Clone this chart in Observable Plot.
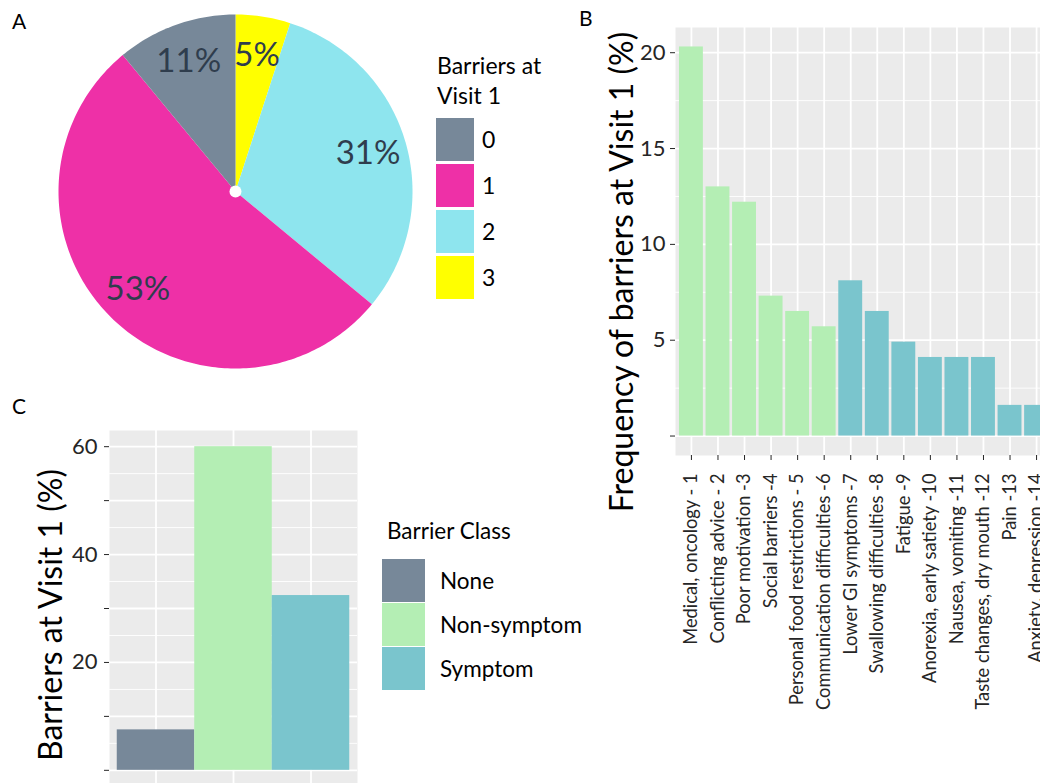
<!DOCTYPE html>
<html>
<head>
<meta charset="utf-8">
<script src="https://cdn.jsdelivr.net/npm/d3@7"></script>
<script src="https://cdn.jsdelivr.net/npm/@observablehq/plot@0.6"></script>
<style>
  body { margin: 0; background: #fff; font-family: Lato, "Open Sans", sans-serif; }
  #fig { position: relative; width: 1040px; height: 783px; overflow: hidden; background: #fff; color: #000; }
  #fig > svg, #fig > div { position: absolute; }
  .tag { line-height: normal; }
  .ytitle { white-space: nowrap; font-size: 32px; line-height: normal; transform: translate(-50%, -50%) rotate(-90deg); }
  .lgtext { white-space: nowrap; line-height: normal; }
</style>
</head>
<body>
<div id="fig"></div>
<script>
// ---- Panel A: number of barriers at visit 1 (share of patients, %)
const barrierCount = ["0", "1", "2", "3"];
const barrierShare = [11, 53, 31, 5];
const barrierColors = ["#778899", "#EE30A7", "#8EE5EE", "#FFFF00"];

// ---- Panel B: frequency of individual barriers at visit 1 (%)
const barrierNames = [
  "Medical, oncology - 1",
  "Conflicting advice - 2",
  "Poor motivation -3",
  "Social barriers -4",
  "Personal food restrictions - 5",
  "Communication difficulties -6",
  "Lower GI symptoms -7",
  "Swallowing difficulties -8",
  "Fatigue -9",
  "Anorexia, early satiety -10",
  "Nausea, vomiting -11",
  "Taste changes, dry mouth -12",
  "Pain -13",
  "Anxiety, depression -14"
];
const barrierFreq = [20.3, 13.0, 12.2, 7.3, 6.5, 5.7, 8.1, 6.5, 4.9, 4.1, 4.1, 4.1, 1.6, 1.6];
const barrierClassOf = [
  "Non-symptom", "Non-symptom", "Non-symptom", "Non-symptom", "Non-symptom", "Non-symptom",
  "Symptom", "Symptom", "Symptom", "Symptom", "Symptom", "Symptom", "Symptom", "Symptom"
];
const freqTickValues = [0, 5, 10, 15, 20];
const freqTickLabels = ["", "5", "10", "15", "20"];
const freqMinorTicks = [2.5, 7.5, 12.5, 17.5];

// ---- Panel C: barrier class at visit 1 (%)
const classNames = ["None", "Non-symptom", "Symptom"];
const classShare = [7.5, 60.0, 32.4];
const classColors = ["#778899", "#B4EEB4", "#7AC5CD"];
const classTickValues = [0, 10, 20, 30, 40, 50, 60];
const classTickLabels = ["", "", "20", "", "40", "", "60"];
const classMinorTicks = [5, 15, 25, 35, 45, 55];

const fig = document.getElementById("fig");
const FONT = "Lato, 'Open Sans', sans-serif";
const baseStyle = { fontFamily: FONT, background: "transparent", overflow: "visible", color: "#262626" };

function place(el, left, top) {
  el.style.position = "absolute";
  el.style.left = left + "px";
  el.style.top = top + "px";
  fig.appendChild(el);
  return el;
}

// ---------------- Panel A: pie ----------------
// Slices run clockwise from 12 o'clock, highest count first.
const pieOrder = barrierCount.slice().reverse();
const pieTotal = d3.sum(barrierShare);
let acc = 0;
const slices = pieOrder.map(key => {
  const share = barrierShare[barrierCount.indexOf(key)];
  const a0 = acc / pieTotal * 2 * Math.PI;
  acc += share;
  const a1 = acc / pieTotal * 2 * Math.PI;
  return { key, share, a0, a1, mid: (a0 + a1) / 2 };
});
const wedgePoints = slices.flatMap(s => {
  const n = Math.max(2, Math.ceil((s.a1 - s.a0) / (Math.PI / 180)));
  const pts = [{ key: s.key, x: 0, y: 0 }];
  for (let j = 0; j <= n; j++) {
    const a = s.a0 + (s.a1 - s.a0) * j / n;
    pts.push({ key: s.key, x: Math.sin(a), y: Math.cos(a) });
  }
  pts.push({ key: s.key, x: 0, y: 0 });
  return pts;
});
const labelRadius = 0.78;

const pie = Plot.plot({
  width: 354, height: 354, margin: 0,
  style: baseStyle,
  x: { domain: [-1, 1], axis: null },
  y: { domain: [-1, 1], axis: null },
  color: { domain: barrierCount, range: barrierColors },
  marks: [
    Plot.line(wedgePoints, { x: "x", y: "y", z: "key", fill: "key", stroke: "none", curve: "linear" }),
    Plot.dot([{ x: 0, y: 0 }], { x: "x", y: "y", r: 6, fill: "white", stroke: "none" }),
    Plot.text(slices, {
      x: d => labelRadius * Math.sin(d.mid),
      y: d => labelRadius * Math.cos(d.mid),
      text: d => d.share + "%",
      fontSize: 33, fill: "#2f3d4d", fontFamily: FONT
    })
  ]
});
place(pie, 58, 14);

// ---------------- Panel B: bars per barrier ----------------
const freqData = barrierNames.map((name, i) => ({ name, freq: barrierFreq[i], cls: barrierClassOf[i] }));
const freqPlot = Plot.plot({
  width: 452, height: 783,
  marginLeft: 75, marginRight: 0, marginTop: 27, marginBottom: 328,
  style: baseStyle,
  x: { type: "band", domain: barrierNames, paddingInner: 0.1, paddingOuter: 0.15, round: false, label: null },
  y: { domain: [-1.015, 21.315], label: null },
  color: { domain: classNames, range: classColors },
  marks: [
    Plot.frame({ fill: "#EBEBEB", stroke: "none" }),
    Plot.gridY(freqMinorTicks, { stroke: "white", strokeOpacity: 1, strokeWidth: 0.9 }),
    Plot.gridY(freqTickValues, { stroke: "white", strokeOpacity: 1, strokeWidth: 1.8 }),
    Plot.gridX({ stroke: "white", strokeOpacity: 1, strokeWidth: 1.8 }),
    Plot.barY(freqData, { x: "name", y: "freq", fill: "cls" }),
    Plot.axisY(freqTickValues, {
      tickFormat: d => freqTickLabels[freqTickValues.indexOf(d)],
      tickSize: 5, tickPadding: 5, fontSize: 22, label: null
    }),
    Plot.axisX({ tickRotate: -90, tickSize: 5, tickPadding: 13, fontSize: 18.3, label: null })
  ]
});
place(freqPlot, 600, 0);

// ---------------- Panel C: bars per barrier class ----------------
const classData = classNames.map((name, i) => ({ name, share: classShare[i] }));
const classPlot = Plot.plot({
  width: 357, height: 396,
  marginLeft: 109, marginRight: 0, marginTop: 40, marginBottom: 0,
  style: baseStyle,
  x: { type: "band", domain: classNames, paddingInner: 0, paddingOuter: 0.1, round: false, axis: null },
  y: { domain: [-3, 63], label: null },
  color: { domain: classNames, range: classColors },
  marks: [
    Plot.frame({ fill: "#EBEBEB", stroke: "none" }),
    Plot.gridY(classMinorTicks, { stroke: "white", strokeOpacity: 1, strokeWidth: 0.9 }),
    Plot.gridY(classTickValues, { stroke: "white", strokeOpacity: 1, strokeWidth: 1.8 }),
    Plot.gridX({ stroke: "white", strokeOpacity: 1, strokeWidth: 1.8 }),
    Plot.barY(classData, { x: "name", y: "share", fill: "name" }),
    Plot.axisY(classTickValues, {
      tickFormat: d => classTickLabels[classTickValues.indexOf(d)],
      tickSize: 5, tickPadding: 7, fontSize: 22, label: null
    })
  ]
});
place(classPlot, 0, 390);

// ---------------- Text: panel tags, axis titles, legends ----------------
function textDiv(text, cls, fontSize, left, baseline) {
  const el = document.createElement("div");
  el.className = cls;
  el.textContent = text;
  el.style.fontSize = fontSize + "px";
  // line-height normal for Lato puts the baseline ~0.987em below the box top
  return place(el, left, baseline - 0.987 * fontSize);
}
textDiv("A", "tag", 21, 12, 28.5);
textDiv("B", "tag", 21, 579, 25.5);
textDiv("C", "tag", 21, 12, 413.5);

function yTitle(text, cx, cy) {
  const el = document.createElement("div");
  el.className = "ytitle";
  el.textContent = text;
  return place(el, cx, cy);
}
yTitle("Frequency of barriers at Visit 1 (%)", 620, 272);
yTitle("Barriers at Visit 1 (%)", 49, 615);

function legend({ titleLines, titleSize, titleLeft, titleBaseline, lineGap,
                  keys, colors, swLeft, swTop, swW, swH, swStep, labelLeft, labelSize }) {
  titleLines.forEach((t, i) => textDiv(t, "lgtext", titleSize, titleLeft, titleBaseline + i * lineGap));
  keys.forEach((k, i) => {
    const sw = document.createElement("div");
    sw.style.width = swW + "px";
    sw.style.height = swH + "px";
    sw.style.background = colors[i];
    place(sw, swLeft, swTop + i * swStep);
    const lab = document.createElement("div");
    lab.className = "lgtext";
    lab.textContent = k;
    lab.style.fontSize = labelSize + "px";
    lab.style.height = swH + "px";
    lab.style.display = "flex";
    lab.style.alignItems = "center";
    place(lab, labelLeft, swTop + i * swStep);
  });
}
legend({
  titleLines: ["Barriers at", "Visit 1"], titleSize: 23, titleLeft: 437, titleBaseline: 74, lineGap: 30,
  keys: barrierCount, colors: barrierColors,
  swLeft: 436, swTop: 118.3, swW: 38, swH: 42.4, swStep: 46, labelLeft: 482, labelSize: 23
});
legend({
  titleLines: ["Barrier Class"], titleSize: 22.5, titleLeft: 387, titleBaseline: 539, lineGap: 0,
  keys: classNames, colors: classColors,
  swLeft: 382.3, swTop: 559.3, swW: 42.7, swH: 43, swStep: 44, labelLeft: 440, labelSize: 22.5
});
</script>
</body>
</html>
